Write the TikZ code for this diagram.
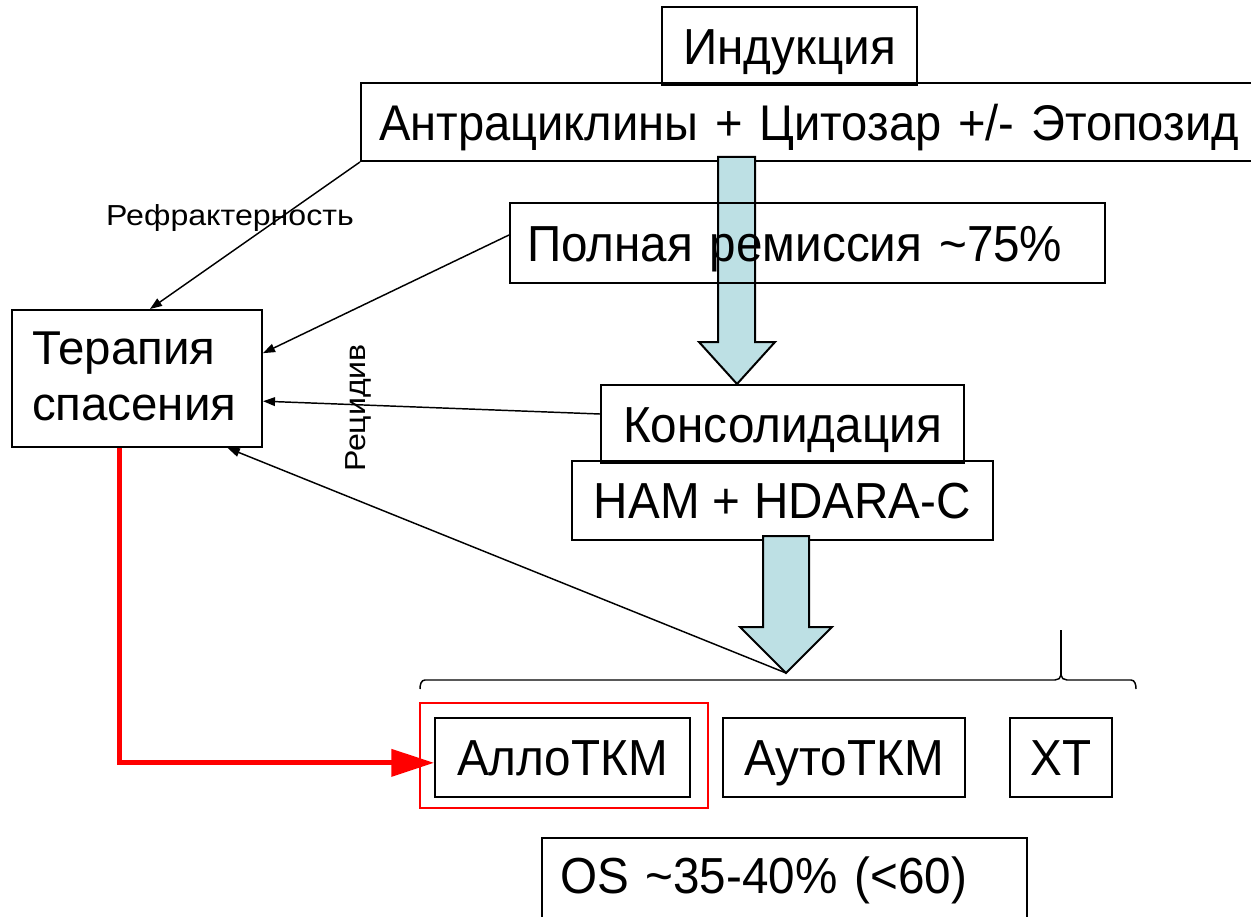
\documentclass[tikz,border=0pt]{standalone}
\usepackage{fontspec}
\setmainfont{Liberation Sans}
\newfontfamily\bigfam{Liberation Sans}[FakeStretch=0.94]
\newfontfamily\smallfam{Liberation Sans}[FakeStretch=1.11]
\usetikzlibrary{arrows.meta}
\definecolor{arrowfill}{RGB}{189,224,228}
\newcommand{\BigFont}{\bigfam\fontsize{38}{42}\selectfont}
\newcommand{\AntFont}{\bigfam\fontsize{37.6}{42}\selectfont}
\newcommand{\TerFont}{\fontsize{35.6}{42}\selectfont}
\newcommand{\SmallFont}{\smallfam\fontsize{21.7}{24}\selectfont}
\begin{document}
\begin{tikzpicture}[x=0.75pt,y=-0.75pt,
  bx/.style={draw=black, line width=1.5pt, rectangle, inner sep=0pt, font=\BigFont, text height=27.2pt, text depth=0pt},
  thinarr/.style={draw=black, line width=1.1pt, -{Triangle[length=9pt,width=6.5pt]}},
  redarr/.style={draw=red, line width=3.75pt, -{Triangle[length=32pt,width=20pt]}},
  blockarr/.style={fill=arrowfill, draw=black, line width=1.5pt, line join=miter},
  lbl/.style={font=\SmallFont, inner sep=0pt},
]
\useasboundingbox (0,0) rectangle (1251,916);
\fill[white] (0,0) rectangle (1251,916);

% top boxes
\node[bx, font=\AntFont, anchor=west, inner xsep=13.5pt, minimum height=58.5pt, text width=660pt, align=left] (ant) at (360,122) {Антрациклины + Цитозар +/- Этопозид};
\node[bx, minimum width=191.25pt, minimum height=58.5pt, align=center] (ind) at (789.5,46) {Индукция};

% block arrow 1
\draw[blockarr] (718,157) -- (755,157) -- (755,342) -- (775,342) -- (737,384) -- (699,342) -- (718,342) -- cycle;

\node[bx, minimum width=446.25pt, minimum height=60pt, text width=420.75pt, align=left] (pol) at (807.5,243) {Полная ремиссия \textasciitilde75\%};
\node[bx, minimum width=272.25pt, minimum height=58.5pt, align=center] (kon) at (782.5,424) {Консолидация};
\node[bx, minimum width=315.75pt, minimum height=59.25pt, align=center] (ham) at (782.5,500.5) {HAM + HDARA-C};

% block arrow 2
\draw[blockarr] (763,536) -- (809,536) -- (809,627) -- (832,627) -- (786,673) -- (740,627) -- (763,627) -- cycle;
\coordinate (tip2) at (786,673);

% salvage therapy
\node[bx, font=\TerFont, minimum width=187.5pt, minimum height=102.75pt, text width=157.5pt, align=left, text height=25.8pt, text depth=47pt] (ter) at (137,378.5) {Терапия\\спасения};

% brace
\draw[line width=1.1pt] (420,689) to[out=90,in=180] (425,680) -- (1055,680) to[out=0,in=-90] (1061,675);
\draw[line width=1.1pt] (1061,675) to[out=-90,in=180] (1067,680) -- (1131,680) to[out=0,in=90] (1136,689);
\draw[line width=0.8pt] (1061,677) -- (1061,630);

% bottom boxes
\node[draw=red, line width=1.5pt, rectangle, minimum width=216pt, minimum height=78.75pt, inner sep=0pt] (red) at (564,755.5) {};
\node[bx, minimum width=191.25pt, minimum height=59.25pt, align=center] (allo) at (562.5,757.5) {АллоТКМ};
\node[bx, minimum width=181.5pt, minimum height=59.25pt, align=center] (auto) at (844,757.5) {АутоТКМ};
\node[bx, minimum width=76.5pt, minimum height=59.25pt, align=center] (xt) at (1061,757.5) {ХТ};
\node[bx, minimum width=363.75pt, minimum height=69pt, text width=336.75pt, align=left, text depth=12.8pt] (os) at (784.5,884) {OS \textasciitilde35-40\% (<60)};

% connectors
\draw[thinarr] (ant.south west) -- ([xshift=9.75pt]ter.north);
\draw[thinarr] ([yshift=6pt]pol.west) -- ([yshift=19pt]ter.east);
\draw[thinarr] ([yshift=7.5pt]kon.west) -- ([yshift=-17pt]ter.east);
\draw[thinarr] (tip2) -- ([xshift=68pt]ter.south);
\draw[redarr] ([xshift=-13.5pt]ter.south) |- ([yshift=-4pt]allo.west);

% labels
\node[lbl] (refr) at (230,218) {Рефрактерность};
\node[lbl, rotate=90] (rec) at (358,408) {Рецидив};
\end{tikzpicture}
\end{document}
